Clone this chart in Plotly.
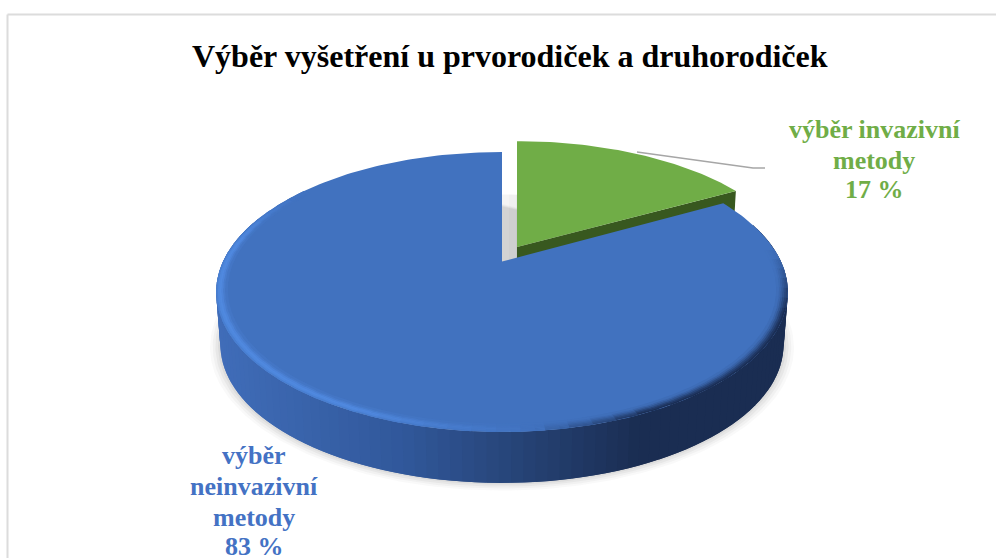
import numpy as np
import plotly.graph_objects as go

# Chart content
title = "Výběr vyšetření u prvorodiček a druhorodiček"
categories = [["výběr invazivní", "metody"], ["výběr", "neinvazivní", "metody"]]
values = [17, 83]
top_colors = ["#70ad47", "#4172bf"]
label_colors = ["#70ad47", "#4472c4"]

# Perspective model of the tilted disc, in pixel units on the axes
CX, R = 502.0, 279.0
A, B, K = 261.5, -76.4, 0.2179
WALL_SCALE, WALL_SHIFT = 0.985, 345.0 - 292.0 * 0.985
GREEN_DX, GREEN_DV, GREEN_R = 15.0, 0.111, 1.012


def project(u, v, dx=0.0, dv=0.0):
    """Map disc coordinates (u right, v back) onto the page."""
    u, v = np.asarray(u, float), np.asarray(v, float) + dv
    d = 1 + K * v
    return CX + dx + R * u / d, (A + B * v) / d


def disc(phi_deg, r=1.0, dx=0.0, dv=0.0):
    phi = np.radians(phi_deg)
    return project(r * np.sin(phi), r * np.cos(phi), dx, dv)


def lower(x, y, dx=0.0):
    """Same outline moved down to the underside of the disc."""
    c = CX + dx
    return c + WALL_SCALE * (x - c), y * WALL_SCALE + WALL_SHIFT


def mix(c1, c2, t):
    a = [int(c1[i:i + 2], 16) for i in (1, 3, 5)]
    b = [int(c2[i:i + 2], 16) for i in (1, 3, 5)]
    t = min(max(t, 0.0), 1.0)
    return "rgb(%d,%d,%d)" % tuple(round(p + (q - p) * t) for p, q in zip(a, b))


fig = go.Figure()


def poly(x, y, fill):
    fig.add_trace(go.Scatter(
        x=list(x), y=list(y), mode="lines", fill="toself", fillcolor=fill,
        line=dict(color=fill, width=0), hoverinfo="skip", showlegend=False,
    ))


green_sweep = 360.0 * values[0] / sum(values)
phi_green = np.linspace(0, green_sweep, 60)
phi_blue = np.linspace(green_sweep, 360, 260)

# Soft ground shadow below the disc
for scale, alpha in [(1.035, 0.04), (1.026, 0.05), (1.017, 0.06), (1.008, 0.07)]:
    x, y = lower(*disc(phi_blue, r=scale))
    poly(x, y, f"rgba(90,90,90,{alpha})")

# Shadow thrown by the pulled-out slice into the gap
gx, gy = disc(phi_green, r=GREEN_R, dx=GREEN_DX, dv=GREEN_DV)
ax, ay = project(0, 0, GREEN_DX, GREEN_DV)
sx, sy = lower(np.r_[ax, gx, ax], np.r_[ay, gy, ay], GREEN_DX)
for shift, alpha in [(-1, 0.035), (-8, 0.02), (-15, 0.06)]:
    poly(sx + shift, sy - 2, f"rgba(60,60,60,{alpha})")

# Pulled-out slice: cut face, then top
low_ax, low_ay = lower(ax, ay, GREEN_DX)
low_cx, low_cy = lower(gx[-1], gy[-1], GREEN_DX)
poly([ax, gx[-1], low_cx, low_ax], [ay, gy[-1], low_cy, low_ay], "#38581f")
poly(np.r_[ax, gx, ax], np.r_[ay, gy, ay], top_colors[0])

# Outer wall of the large slice with its left-to-right shading; each strip
# runs on under the next one so no seams show between them
wall_stops = [(215, "#406db9"), (400, "#31589b"), (510, "#274579"), (640, "#1a2d52"), (800, "#1a2d52")]
wall_phi = np.linspace(290, 75, 109)
for p0, p1 in zip(wall_phi[:-1], wall_phi[1:]):
    tx, ty = disc(np.linspace(p0, p1 - 2.0, 4))
    bx, by = lower(tx, ty)
    xm = disc((p0 + p1) / 2)[0]
    colour = wall_stops[-1][1]
    for (x0, c0), (x1, c1) in zip(wall_stops[:-1], wall_stops[1:]):
        if x0 <= xm <= x1:
            colour = mix(c0, c1, (xm - x0) / (x1 - x0))
            break
    poly(np.r_[tx, bx[::-1]], np.r_[ty, by[::-1]], colour)

# Top of the large slice
bx0, by0 = disc(phi_blue)
poly(np.r_[CX, bx0, CX], np.r_[A, by0, A], top_colors[1])


# Rounded rim: lit along the left and front, falling into shade on the right
def rim_colour(phi):
    if phi < 175:
        t = min((phi - 85) / 25, (175 - phi) / 20)
        return "#1b2f56", min(max(t, 0), 1)
    t = min((phi - 175) / 30, (305 - phi) / 25)
    return "#5089df", min(max(t, 0), 1)


ring_edges = [1.0, 0.994, 0.988, 0.982, 0.976, 0.970, 0.964]
ring_weight = [0.55, 0.9, 1.0, 0.8, 0.45, 0.18]
shade_weight = [1.0, 0.85, 0.65, 0.42, 0.22, 0.08]
rim_phi = np.linspace(85, 305, 56)
step = rim_phi[1] - rim_phi[0]
for i, (r_out, r_in) in enumerate(zip(ring_edges[:-1], ring_edges[1:])):
    for p0, p1 in zip(rim_phi[:-1], rim_phi[1:]):
        tone, t = rim_colour((p0 + p1) / 2)
        w = shade_weight[i] if tone == "#1b2f56" else ring_weight[i]
        colour = mix(top_colors[1], tone, t * w)
        arc = np.linspace(p0, p1 + 0.4 * step, 4)
        ox, oy = disc(arc, r=r_out)
        ix, iy = disc(arc[::-1], r=r_in - 0.003)
        poly(np.r_[ox, ix], np.r_[oy, iy], colour)


def line_labels(lines, x, ys, colour):
    return [
        dict(x=x, y=y, xref="x", yref="y", text=f"<b>{line}</b>", showarrow=False,
             xanchor="center", yanchor="middle",
             font=dict(family="Liberation Serif", size=26, color=colour))
        for line, y in zip(lines, ys)
    ]


fig.update_layout(
    width=996, height=558, autosize=False,
    margin=dict(l=0, r=0, t=0, b=0),
    paper_bgcolor="white", plot_bgcolor="white", showlegend=False,
    xaxis=dict(range=[0, 996], domain=[0, 1], visible=False, fixedrange=True),
    yaxis=dict(range=[558, 0], domain=[0, 1], visible=False, fixedrange=True),
    shapes=[
        dict(type="line", xref="x", yref="y", x0=7.5, y0=14.5, x1=996, y1=14.5,
             line=dict(color="#dcdcdc", width=2)),
        dict(type="line", xref="x", yref="y", x0=7.5, y0=14.5, x1=7.5, y1=558,
             line=dict(color="#dcdcdc", width=2)),
        dict(type="path", xref="x", yref="y", path="M 637 152 L 753 168 L 765 168",
             line=dict(color="#a6a6a6", width=1.3)),
    ],
    annotations=[
        dict(x=509.5, y=56, xref="x", yref="y", text=f"<b>{title}</b>", showarrow=False,
             xanchor="center", yanchor="middle",
             font=dict(family="Liberation Serif", size=32, color="#000000")),
    ]
    + line_labels(categories[1] + [f"{values[1]} %"], 254, [455, 486, 517, 546], label_colors[1])
    + line_labels(categories[0] + [f"{values[0]} %"], 874, [129, 160, 189], label_colors[0]),
)

fig.write_html("out.html")
